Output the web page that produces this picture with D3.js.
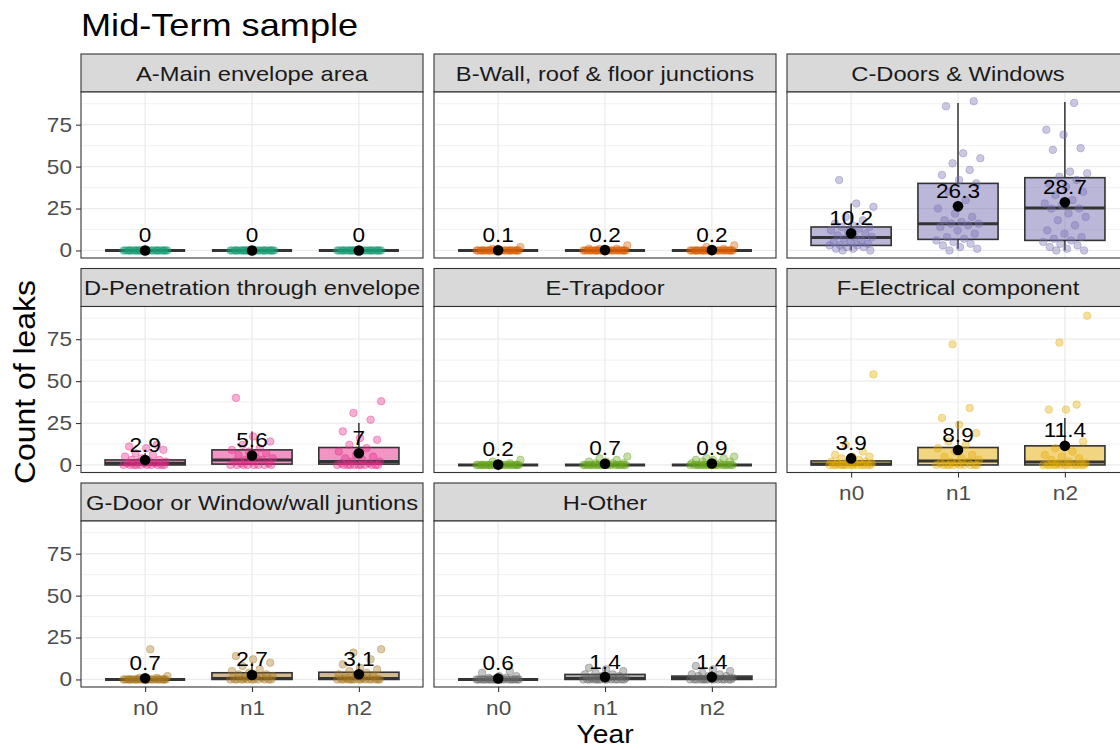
<!DOCTYPE html>
<html>
<head>
<meta charset="utf-8">
<script src="https://cdn.jsdelivr.net/npm/d3@7"></script>
<style>
  body { margin: 0; background: #fff; }
  svg { display: block; font-family: "Liberation Sans", Arial, sans-serif; }
</style>
</head>
<body>
<div id="chart"></div>
<script>
// ---------------- data ----------------
const panels = ["A-Main envelope area", "B-Wall, roof & floor junctions", "C-Doors & Windows",
  "D-Penetration through envelope", "E-Trapdoor", "F-Electrical component",
  "G-Door or Window/wall juntions", "H-Other"];
const years = ["n0", "n1", "n2"];
const colors = ["#1B9E77", "#D95F02", "#7570B3", "#E7298A", "#66A61E", "#E6AB02", "#A6761D", "#666666"];
const yTicks = [0, 25, 50, 75];
const yMinor = [12.5, 37.5, 62.5, 87.5];

// mean per panel and year (labels in the chart)
const means = [[0, 0, 0], [0.1, 0.2, 0.2], [10.2, 26.3, 28.7], [2.9, 5.6, 7],
  [0.2, 0.7, 0.9], [3.9, 8.9, 11.4], [0.7, 2.7, 3.1], [0.6, 1.4, 1.4]];

// box stats: [lower whisker, q1, median, q3, upper whisker]
const boxes = [
  [[0, 0, 0, 0, 0], [0, 0, 0, 0, 0], [0, 0, 0, 0, 0]],
  [[0, 0, 0, 0, 0], [0, 0, 0, 0, 0], [0, 0, 0, 0, 0]],
  [[0, 3, 7.8, 14, 28], [1, 6.6, 16, 40, 88], [0, 6, 25.3, 43.4, 88.5]],
  [[0, 0, 1, 3, 7], [0, 0.5, 3, 9, 20], [0, 0.5, 2, 10.4, 25]],
  [[0, 0, 0, 0, 0], [0, 0, 0, 0, 0], [0, 0, 0, 0, 0]],
  [[0, 0, 0.5, 2.4, 6], [0, 0, 2.4, 10.4, 26], [0, 0, 1.8, 11.4, 28]],
  [[0, 0, 0, 0, 0], [0, 0, 0.5, 4, 10], [0, 0, 0.5, 4.3, 10]],
  [[0, 0, 0, 0, 0], [0, 0, 0.5, 3, 7], [0, 0, 0.5, 2, 5]]
];

// jittered observations (count of leaks per house)
const ptsA = [
  [0,0,0,0,0,0,0,0,0,0,0,0,0,0,0,0,0,0,0,0,0,0,0,0,0,0,0,0],
  [0,0,0,0,0,0,0,0,0,0,0,0,0,0,0,0,0,0,0,0,0,0,0,0,0,0,0,0],
  [0,0,0,0,0,0,0,0,0,0,0,0,0,0,0,0,0,0,0,0,0,0,0,0,0,0,0,0]
];
const ptsB = [
  [0,0,0,0,0,0,0,0,0,0,0,0,0,0,0,0,0,0,0,0,0,0,0,0,0,0,1,2],
  [0,0,0,0,0,0,0,0,0,0,0,0,0,0,0,0,0,0,0,0,0,0,0,0,1,1,1,3],
  [0,0,0,0,0,0,0,0,0,0,0,0,0,0,0,0,0,0,0,0,0,0,0,0,0,1,2,3]
];
const ptsC = [
  [0,0,1,1,2,2,3,3,3,4,5,5,6,7,8,8,9,10,11,12,13,14,14,15,16,18,20,26,28,42],
  [0,1,2,3,4,5,6,7,8,10,12,14,15,16,16,17,18,20,22,25,30,35,40,42,45,48,52,55,58,86,89],
  [0,0,1,2,3,4,5,6,7,8,10,12,15,18,20,22,25,25,27,28,30,33,35,38,40,42,44,46,47,60,61,69,72,88]
];
const ptsD = [
  [0,0,0,0,0,0,0,0,0,0,1,1,1,2,2,2,3,3,4,5,6,7,9,10,11,12],
  [0,0,0,0,0,0,0,0,1,1,2,2,3,3,4,5,6,7,8,9,10,12,14,17,40],
  [0,0,0,0,0,0,0,0,0,0,0,1,1,2,2,3,4,5,6,8,10,12,15,16,20,27,31,38]
];
const ptsE = [
  [0,0,0,0,0,0,0,0,0,0,0,0,0,0,0,0,0,0,0,0,0,0,0,0,0,1,2,3],
  [0,0,0,0,0,0,0,0,0,0,0,0,0,0,0,0,0,0,0,0,1,1,1,2,2,3,4,5],
  [0,0,0,0,0,0,0,0,0,0,0,0,0,0,0,0,0,0,0,1,1,2,2,3,3,4,4,5]
];
const ptsF = [
  [0,0,0,0,0,0,0,0,0,0,0,0,0,0,1,1,1,2,2,2,3,4,5,5,6,8,12,54],
  [0,0,0,0,0,0,0,0,0,0,1,1,2,2,3,4,5,6,8,10,12,14,19,24,28,34,72],
  [0,0,0,0,0,0,0,0,0,0,0,0,0,1,1,2,3,4,5,6,8,10,14,33,33,36,73,89]
];
const ptsG = [
  [0,0,0,0,0,0,0,0,0,0,0,0,0,0,0,0,0,0,0,0,0,0,0,0,0,1,1,2,18],
  [0,0,0,0,0,0,0,0,0,0,0,0,1,1,2,2,3,3,4,5,6,8,10,12,14],
  [0,0,0,0,0,0,0,0,0,0,0,0,0,0,0,1,1,2,2,3,4,5,6,7,9,12,16,18]
];
const ptsH = [
  [0,0,0,0,0,0,0,0,0,0,0,0,0,0,0,0,0,0,0,0,1,1,2,2,4,5],
  [0,0,0,0,0,0,0,0,0,0,0,0,0,0,1,1,1,2,2,3,3,4,5,6,7],
  [0,0,0,0,0,0,0,0,0,0,0,0,0,0,1,1,2,2,2,3,3,4,5,6,8]
];
const points = [ptsA, ptsB, ptsC, ptsD, ptsE, ptsF, ptsG, ptsH];

// ---------------- layout ----------------
const W = 1120, H = 750;
const SX = 1.13;           // glyphs in the picture are a little wider than tall
const PW = 342, PH = 166, STRIP = 38;
const colX = [81, 434, 787];
const rowY = [54, 268.5, 483];
const BORDER = "#333333";

const svg = d3.select("#chart").append("svg").attr("width", W).attr("height", H);

function label(g, x, y, str, size, anchor, fill) {
  return g.append("text")
    .attr("transform", `translate(${x},${y}) scale(${SX},1)`)
    .attr("text-anchor", anchor)
    .attr("font-size", size)
    .attr("fill", fill)
    .text(str);
}

const x = d3.scaleLinear().domain([0.4, 3.6]).range([0, PW]);
const y = d3.scaleLinear().domain([-4.5, 94.5]).range([PH, 0]);
const bw = x(0.75) - x(0);
const jitter = i => (((i * 0.618034 + 0.31) % 1) - 0.5) * 0.42;

panels.forEach((name, p) => {
  const col = p % 3, row = Math.floor(p / 3);
  const g = svg.append("g").attr("transform", `translate(${colX[col]},${rowY[row] + STRIP})`);

  // strip
  g.append("rect").attr("x", 0).attr("y", -STRIP).attr("width", PW).attr("height", STRIP)
    .attr("fill", "#D9D9D9").attr("stroke", BORDER).attr("stroke-width", 1.1);
  label(g, PW / 2, -STRIP / 2 + 7.5, name, 21, "middle", "#1A1A1A");

  // grid
  g.append("rect").attr("width", PW).attr("height", PH).attr("fill", "#fff");
  g.selectAll(".minor").data(yMinor).join("line")
    .attr("x1", 0).attr("x2", PW).attr("y1", d => y(d)).attr("y2", d => y(d))
    .attr("stroke", "#EBEBEB").attr("stroke-width", 0.7);
  g.selectAll(".major").data(yTicks).join("line")
    .attr("x1", 0).attr("x2", PW).attr("y1", d => y(d)).attr("y2", d => y(d))
    .attr("stroke", "#EBEBEB").attr("stroke-width", 1.2);
  g.selectAll(".vmajor").data(years).join("line")
    .attr("x1", (d, j) => x(j + 1)).attr("x2", (d, j) => x(j + 1)).attr("y1", 0).attr("y2", PH)
    .attr("stroke", "#EBEBEB").attr("stroke-width", 1.2);

  years.forEach((yr, j) => {
    const cx = x(j + 1);
    const [lo, q1, med, q3, hi] = boxes[p][j];
    // whiskers
    g.append("line").attr("x1", cx).attr("x2", cx).attr("y1", y(q3)).attr("y2", y(hi))
      .attr("stroke", BORDER).attr("stroke-width", 1.5);
    g.append("line").attr("x1", cx).attr("x2", cx).attr("y1", y(q1)).attr("y2", y(lo))
      .attr("stroke", BORDER).attr("stroke-width", 1.5);
    // box
    g.append("rect").attr("x", cx - bw / 2).attr("y", y(q3)).attr("width", bw)
      .attr("height", y(q1) - y(q3))
      .attr("fill", colors[p]).attr("fill-opacity", 0.5)
      .attr("stroke", BORDER).attr("stroke-width", 1.6);
    g.append("line").attr("x1", cx - bw / 2).attr("x2", cx + bw / 2).attr("y1", y(med)).attr("y2", y(med))
      .attr("stroke", BORDER).attr("stroke-width", 3);

    // jittered points
    g.append("g").selectAll("circle").data(points[p][j]).join("circle")
      .attr("cx", (d, i) => x(j + 1 + jitter(i)))
      .attr("cy", d => y(d))
      .attr("r", 3.8)
      .attr("fill", colors[p]).attr("fill-opacity", 0.38)
      .attr("stroke", colors[p]).attr("stroke-opacity", 0.45).attr("stroke-width", 0.8);

    // mean
    const m = means[p][j];
    g.append("circle").attr("cx", cx).attr("cy", y(m)).attr("r", 5.3).attr("fill", "#000");
    label(g, cx, y(m) - 8.5, String(m), 20, "middle", "#000");
  });

  g.append("rect").attr("width", PW).attr("height", PH)
    .attr("fill", "none").attr("stroke", BORDER).attr("stroke-width", 1.1);

  // y axis on the first column
  if (col === 0) {
    const ay = g.append("g").call(d3.axisLeft(y).tickValues(yTicks).tickSize(5).tickPadding(3));
    ay.select(".domain").remove();
    ay.selectAll("line").attr("stroke", BORDER).attr("stroke-width", 1.1);
    ay.selectAll("text").attr("font-size", 20).attr("fill", "#4D4D4D")
      .attr("font-family", "Liberation Sans, Arial, sans-serif")
      .attr("transform", `scale(${SX},1)`);
  }
  // x axis under the last panel of each column
  if (p >= 5) {
    const ax = g.append("g").attr("transform", `translate(0,${PH})`)
      .call(d3.axisBottom(x).tickValues([1, 2, 3]).tickFormat(d => years[d - 1]).tickSize(5).tickPadding(8.5));
    ax.select(".domain").remove();
    ax.selectAll("line").attr("stroke", BORDER).attr("stroke-width", 1.1);
    ax.selectAll("text").attr("font-size", 20).attr("fill", "#4D4D4D")
      .attr("font-family", "Liberation Sans, Arial, sans-serif")
      .attr("transform", `scale(${SX},1)`);
  }
});

// titles
label(svg, 81, 36, "Mid-Term sample", 32, "start", "#000");
label(svg, 605, 743, "Year", 25, "middle", "#000");
svg.append("text")
  .attr("transform", "translate(35,382) rotate(-90) scale(1.1,1)")
  .attr("text-anchor", "middle")
  .attr("font-size", 29)
  .attr("fill", "#000")
  .text("Count of leaks");
</script>
</body>
</html>
